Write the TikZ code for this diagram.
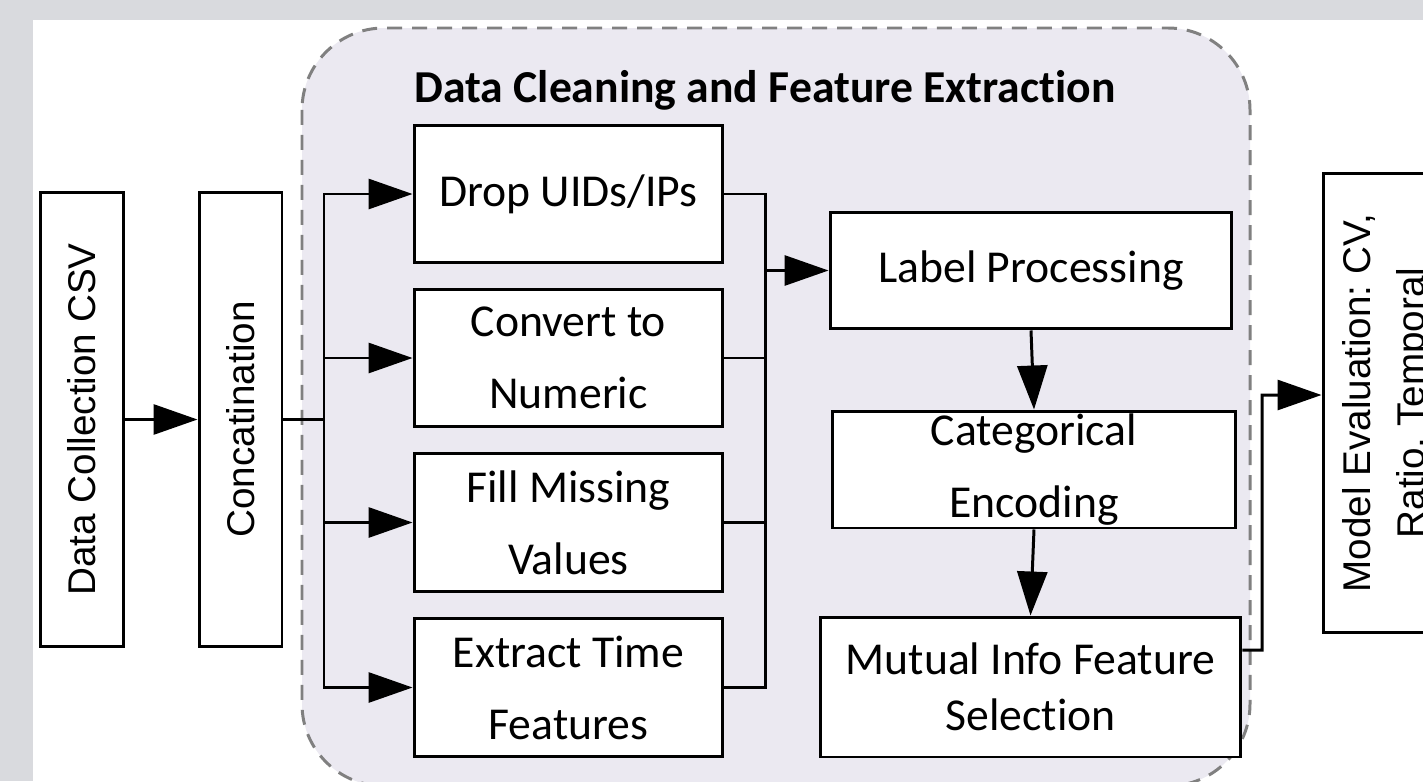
\documentclass[tikz,border=0pt]{standalone}
\usepackage{fontspec}
\setmainfont{Carlito}[Ligatures=NoCommon]
\newfontfamily\arialfont{Liberation Sans}
\usetikzlibrary{arrows.meta}
\frenchspacing

\definecolor{framegray}{HTML}{D9DADE}
\definecolor{groupfill}{HTML}{EBE9F1}
\definecolor{dashgray}{HTML}{808080}

\begin{document}
\begin{tikzpicture}[
    x=0.02cm, y=-0.02cm,
    box/.style={draw, fill=white, line width=1.7pt, align=center, inner sep=0pt, font=\fontsize{26}{41}\selectfont},
    vbox/.style={draw, fill=white, line width=1.7pt, inner sep=0pt, font=\arialfont\fontsize{22}{31}\selectfont},
    arr/.style={-{Triangle[length=0.88cm, width=0.6cm]}},
    line width=1.7pt
]

\useasboundingbox (0,0) rectangle (1423,781);

% Frame and group background
\fill[framegray] (0,0) rectangle (1423,781);
\fill[white] (33,20) rectangle (1423,781);
\draw[dashgray, fill=groupfill, dash pattern=on 0.3cm off 0.2cm, rounded corners=1.64cm] (302,28) rectangle (1250,786);
\node[font=\bfseries\fontsize{26}{31}\selectfont] (title) at (765,90) {Data Cleaning and Feature Extraction};

% Input stages
\node[vbox, minimum width=1.68cm, minimum height=9.1cm] (csv) at (82,419.5) {\rotatebox{90}{Data Collection CSV}};
\node[vbox, minimum width=1.66cm, minimum height=9.1cm] (concat) at (240.5,419.5) {\rotatebox{90}{Concatination}};

% Cleaning steps
\node[box, minimum width=6.18cm, minimum height=2.76cm] (drop) at (568.5,194) {Drop UIDs/IPs};
\node[box, minimum width=6.18cm, minimum height=2.76cm] (conv) at (568.5,358) {Convert to\\Numeric};
\node[box, minimum width=6.18cm, minimum height=2.76cm] (fill) at (568.5,522.5) {Fill Missing\\Values};
\node[box, minimum width=6.18cm, minimum height=2.76cm] (time) at (568.5,687.5) {Extract Time\\Features};

% Feature steps
\node[box, minimum width=8.04cm, minimum height=2.34cm] (label) at (1031,270.5) {Label Processing};
\node[box, minimum width=8.08cm, minimum height=2.34cm] (cat) at (1034,469.5) {Categorical\\Encoding};
\node[box, minimum width=8.42cm, minimum height=2.8cm, font=\fontsize{26}{32}\selectfont] (mi) at (1030.5,687) {Mutual Info Feature\\Selection};

% Evaluation
\node[vbox, minimum width=2.54cm, minimum height=9.2cm] (model) at (1386.5,403)
    {\rotatebox{90}{\begin{tabular}{@{}c@{}}Model Evaluation: CV,\\Ratio, Temporal\end{tabular}}};

% Bus points
\coordinate (splitL) at (324,419.5);
\coordinate (joinR) at (765,270.5);
\coordinate (bend) at (1262,650);

% Connections
\draw[arr] (csv) -- (concat);
\draw (concat) -- (splitL);
\draw[arr] (splitL) |- (drop.west);
\draw[arr] (splitL) |- (conv.west);
\draw[arr] (splitL) |- (fill.west);
\draw[arr] (splitL) |- (time.west);

\draw (drop.east) -| (joinR);
\draw (conv.east) -| (joinR);
\draw (fill.east) -| (joinR);
\draw (time.east) -| (joinR);
\draw[arr] (joinR) -- (label.west);

\draw[arr] (label.south) -- (cat.north);
\draw[arr] (cat.south) -- (mi.north);
\draw[arr] ([yshift=0.74cm]mi.east) -- (bend) |- ([yshift=0.16cm]model.west);

\end{tikzpicture}
\end{document}
